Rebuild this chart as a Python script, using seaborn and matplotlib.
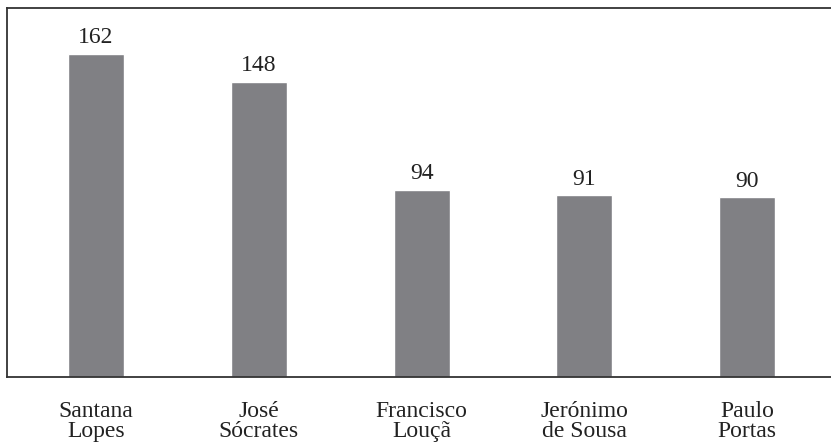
import matplotlib
matplotlib.use('Agg')
import matplotlib.pyplot as plt
import seaborn as sns
import pandas as pd

names = ['Santana\nLopes', 'José\nSócrates', 'Francisco\nLouçã', 'Jerónimo\nde Sousa', 'Paulo\nPortas']
counts = [162, 148, 94, 91, 90]

df = pd.DataFrame({'name': names, 'count': counts})

sns.set_style('white')
plt.rcParams['font.family'] = ['Liberation Serif', 'DejaVu Serif']

fig = plt.figure(figsize=(8.31, 4.42), dpi=100)
ax = fig.add_axes([7 / 831, 1 - 377 / 442, 824 / 831, 369 / 442])

sns.barplot(data=df, x='name', y='count', color='#808084', saturation=1,
            width=0.345, ax=ax)

for i, v in enumerate(counts):
    ax.text(i, v + 3, str(v), ha='center', va='bottom', fontsize=17, color='#222222')

ax.set_xlim(-0.547, 4.515)
ax.set_ylim(0, 185)
ax.set_xlabel('')
ax.set_ylabel('')
ax.set_yticks([])
ax.tick_params(axis='x', length=0, labelsize=17, colors='#222222', pad=17)
for lbl in ax.get_xticklabels():
    lbl.set_linespacing(0.95)
for s in ax.spines.values():
    s.set_color('#333333')
    s.set_linewidth(1.3)
ax.spines['right'].set_visible(False)

fig.savefig('out.png', dpi=100)
